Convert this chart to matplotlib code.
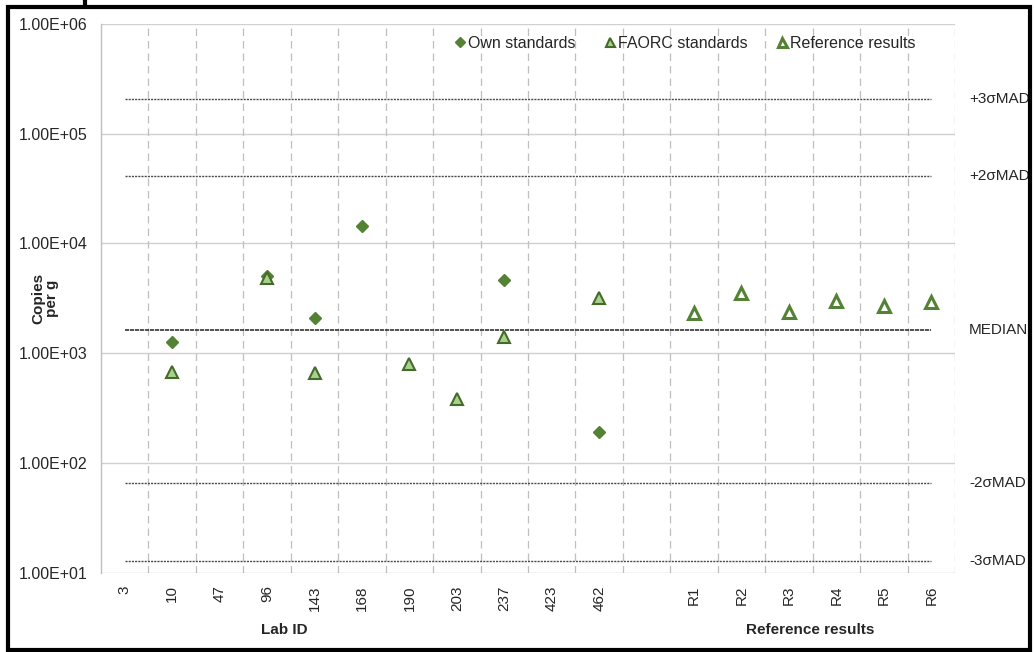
import numpy as np
import matplotlib
matplotlib.use("Agg")
import matplotlib.pyplot as plt
from matplotlib.lines import Line2D
from matplotlib.patches import Rectangle

plt.rcParams["font.family"] = ["Liberation Sans", "DejaVu Sans"]

# categories on the x axis (blank slot separates labs from reference results)
categories = ["3", "10", "47", "96", "143", "168", "190", "203", "237", "423", "462",
              "", "R1", "R2", "R3", "R4", "R5", "R6"]

# copies per g
own_ids = ["10", "96", "143", "168", "237", "462"]
own_vals = [1254, 5050, 2100, 14400, 4670, 190]

faorc_ids = ["10", "96", "143", "190", "203", "237", "462"]
faorc_vals = [676, 4840, 659, 796, 382, 1412, 3160]

ref_ids = ["R1", "R2", "R3", "R4", "R5", "R6"]
ref_vals = [2335, 3510, 2385, 2965, 2690, 2905]

# assessment limits
limit_names = ["+3σMAD", "+2σMAD", "MEDIAN", "-2σMAD", "-3σMAD"]
limit_vals = [2.08e5, 4.11e4, 1614, 65.4, 12.7]

dark_green = "#548235"
light_green = "#a9d18e"
grid_grey = "#d0d0d0"
txt = "#262626"

pos = {c: i for i, c in enumerate(categories)}

fig = plt.figure(figsize=(10.35, 6.52), dpi=100)
ax = fig.add_axes([0.0976, 0.1216, 0.8251, 0.8416])

ax.set_yscale("log")
ax.set_ylim(10, 1e6)
ax.set_xlim(-0.5, len(categories) - 0.5)

# grid: solid horizontal at decades, dashed vertical between categories
for d in [1e1, 1e2, 1e3, 1e4, 1e5, 1e6]:
    ax.axhline(d, color=grid_grey, lw=1.0, zorder=0)
for b in np.arange(0.5, len(categories), 1.0):
    ax.axvline(b, color="#bfbfbf", lw=0.9, ls=(0, (6, 4)), zorder=0)

for s in ["top", "right", "bottom"]:
    ax.spines[s].set_visible(False)
ax.spines["left"].set_color("#bfbfbf")
ax.spines["left"].set_linewidth(1.0)

# limit lines
x0, x1 = 0, len(categories) - 1
for name, v in zip(limit_names, limit_vals):
    if name == "MEDIAN":
        ax.plot([x0, x1], [v, v], color="#333333", lw=1.2, ls=(0, (2.5, 0.5)), zorder=1)
    else:
        ax.plot([x0, x1], [v, v], color="#4a4a4a", lw=1.0, ls=(0, (1.5, 0.8)), zorder=1)
    ax.text(len(categories) - 0.5 + 0.3, v, name, ha="left", va="center",
            fontsize=11, color=txt)

# points
ax.plot([pos[c] for c in own_ids], own_vals, ls="none", marker="D", ms=6.5,
        color=dark_green, mec=dark_green, zorder=3, label="Own standards")
ax.plot([pos[c] for c in faorc_ids], faorc_vals, ls="none", marker="^", ms=9,
        mfc=light_green, mec="#456b2b", mew=1.5, zorder=4, label="FAORC standards")
ax.plot([pos[c] for c in ref_ids], ref_vals, ls="none", marker="^", ms=9,
        mfc="white", mec=dark_green, mew=2.2, zorder=4, label="Reference results")

# axes text
ax.set_yticks([1e1, 1e2, 1e3, 1e4, 1e5, 1e6])
ax.set_yticklabels(["1.00E+01", "1.00E+02", "1.00E+03", "1.00E+04", "1.00E+05", "1.00E+06"])
ax.yaxis.set_minor_locator(matplotlib.ticker.NullLocator())
ax.tick_params(axis="y", length=0, pad=9.5, labelsize=11.5, labelcolor=txt)
ax.set_xticks(range(len(categories)))
ax.set_xticklabels(categories, rotation=90)
ax.tick_params(axis="x", length=0, pad=9, labelsize=11, labelcolor=txt)

fig.text(45 / 1035, 1 - 298 / 652, "Copies\nper g", rotation=90, ha="center", va="center",
         fontsize=11, fontweight="bold", color=txt, linespacing=1.0)
fig.text(284 / 1035, 1 - 630 / 652, "Lab ID", ha="center", va="center",
         fontsize=11, fontweight="bold", color=txt)
fig.text(810 / 1035, 1 - 630 / 652, "Reference results", ha="center", va="center",
         fontsize=11, fontweight="bold", color=txt)

leg = ax.legend(loc="center left", bbox_to_anchor=(0.405, 0.965), ncol=3, frameon=False,
                fontsize=11.5, handletextpad=0.05, columnspacing=1.7, handlelength=0.9,
                markerscale=0.72, borderaxespad=0)
for t in leg.get_texts():
    t.set_color(txt)

# black frame around the figure
fig.add_artist(Rectangle((8 / 1035, 2 / 652), 1022 / 1035, 643 / 652, transform=fig.transFigure,
                         fill=False, ec="black", lw=3))
fig.add_artist(Line2D([85 / 1035, 85 / 1035], [1 - 0 / 652, 1 - 6 / 652],
                      transform=fig.transFigure, color="black", lw=3))

fig.savefig("out.png", dpi=100)
